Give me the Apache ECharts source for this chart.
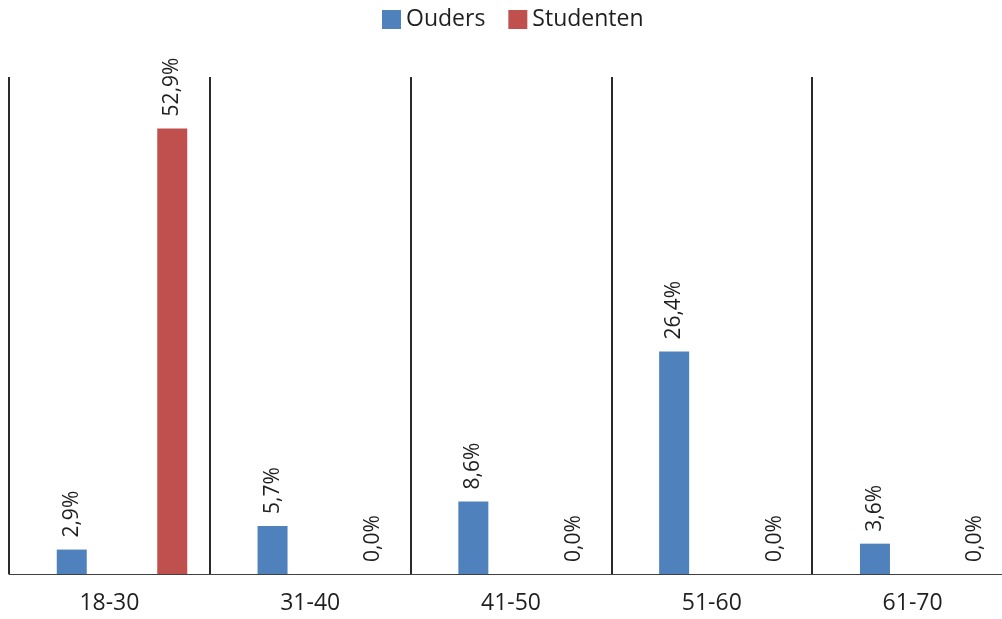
<!DOCTYPE html>
<html>
<head>
<meta charset="utf-8">
<script src="https://cdn.jsdelivr.net/npm/echarts@6/dist/echarts.min.js"></script>
<style>
  html, body { margin: 0; padding: 0; background: #fff; overflow: hidden; }
  /* a bit wider than the window: the last column runs past the right edge */
  #main { width: 1030px; height: 619px; }
</style>
</head>
<body>
<div id="main"></div>
<script>
const categories = ['18-30', '31-40', '41-50', '51-60', '61-70']
const ouders = [2.9, 5.7, 8.6, 26.4, 3.6]
const studenten = [52.9, 0, 0, 0, 0]

const chart = echarts.init(document.getElementById('main'))
const font = '"Open Sans", sans-serif'
const pct = (p) => p.value.toFixed(1).replace('.', ',') + '%'

const barLabel = {
  show: true,
  position: 'top',
  rotate: 90,
  align: 'left',
  verticalAlign: 'middle',
  distance: 12,
  fontFamily: font,
  fontSize: 21,
  color: '#1f1f1f',
  formatter: pct,
}

const option = {
  animation: false,
  textStyle: { fontFamily: font },
  legend: {
    top: 3,
    left: 377,
    icon: 'rect',
    itemWidth: 19,
    itemHeight: 19,
    itemGap: 23,
    textStyle: { fontFamily: font, fontSize: 23, color: '#1f1f1f' },
    data: ['Ouders', 'Studenten'],
  },
  // grid 0 draws the axis, grid 1 (shifted a bit right) holds the bars
  grid: [
    { left: 9, right: 17, top: 77, bottom: 45 },
    { left: 21.6, right: 4.4, top: 77, bottom: 45 },
  ],
  xAxis: [
    {
      type: 'category',
      gridIndex: 0,
      data: categories,
      axisLine: { lineStyle: { color: '#404040', width: 1 } },
      axisTick: { alignWithLabel: true, length: 5, lineStyle: { color: '#404040' } },
      axisLabel: { fontFamily: font, fontSize: 23, color: '#1f1f1f', margin: 18 },
      splitLine: { show: true, lineStyle: { color: '#2a2a2a', width: 2 } },
    },
    {
      type: 'category',
      gridIndex: 1,
      data: categories,
      show: false,
    },
  ],
  yAxis: [
    { type: 'value', gridIndex: 0, min: 0, max: 59, show: false, splitLine: { show: false } },
    { type: 'value', gridIndex: 1, min: 0, max: 59, show: false, splitLine: { show: false } },
  ],
  series: [
    {
      name: 'Ouders',
      type: 'bar',
      xAxisIndex: 1,
      yAxisIndex: 1,
      barWidth: 30,
      barGap: '235%',
      itemStyle: { color: '#4F81BD' },
      label: barLabel,
      data: ouders,
    },
    {
      name: 'Studenten',
      type: 'bar',
      xAxisIndex: 1,
      yAxisIndex: 1,
      barWidth: 30,
      barGap: '235%',
      itemStyle: { color: '#C0504D' },
      label: barLabel,
      data: studenten,
    },
  ],
}

chart.setOption(option)
</script>
</body>
</html>
